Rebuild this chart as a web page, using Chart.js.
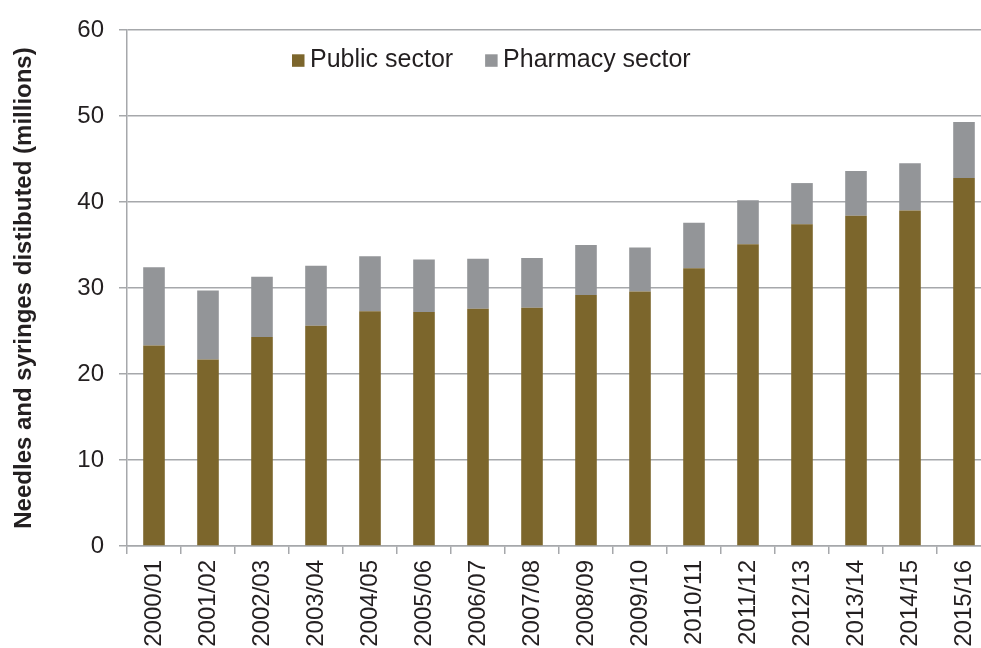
<!DOCTYPE html>
<html>
<head>
<meta charset="utf-8">
<script src="https://cdn.jsdelivr.net/npm/chart.js@4/dist/chart.umd.min.js"></script>
<style>
  html, body { margin: 0; padding: 0; background: #fff; overflow: hidden; }
  #wrap { position: absolute; left: 0; top: 0; width: 1000px; height: 648px; }
</style>
</head>
<body>
<div id="wrap"><canvas id="needlesChart" width="1000" height="648"></canvas></div>
<script>
const years = [
  "2000/01", "2001/02", "2002/03", "2003/04", "2004/05", "2005/06", "2006/07", "2007/08",
  "2008/09", "2009/10", "2010/11", "2011/12", "2012/13", "2013/14", "2014/15", "2015/16",
];
const publicSector = [23.3, 21.7, 24.3, 25.6, 27.3, 27.2, 27.6, 27.7, 29.2, 29.6, 32.3, 35.1, 37.4, 38.4, 39.0, 42.8];
const pharmacySector = [9.1, 8.0, 7.0, 7.0, 6.4, 6.1, 5.8, 5.8, 5.8, 5.1, 5.3, 5.1, 4.8, 5.2, 5.5, 6.5];
const yTicks = [0, 10, 20, 30, 40, 50, 60];

const PUBLIC_COLOR = "#7c662c";
const PHARMACY_COLOR = "#939598";
const TEXT_COLOR = "#231f20";
const GRID_COLOR = "#a6a8ab";
const FONT_FAMILY = "'Liberation Sans', Arial, sans-serif";

// legend sits inside the plot, left of centre, so draw it by hand
const insideLegend = {
  id: "insideLegend",
  afterDraw(chart) {
    const ctx = chart.ctx;
    let x = 292;
    const y = 60.5;

    ctx.save();
    ctx.font = `25px ${FONT_FAMILY}`;
    ctx.textBaseline = "middle";
    ctx.textAlign = "left";
    chart.data.datasets.forEach((ds) => {
      ctx.fillStyle = ds.backgroundColor;
      ctx.fillRect(x, y - 6.2, 12.5, 12.5);
      ctx.fillStyle = TEXT_COLOR;
      ctx.fillText(ds.label, x + 18, y);
      x += 18 + ctx.measureText(ds.label).width + 32;
    });
    ctx.restore();
  },
};

new Chart(document.getElementById("needlesChart"), {
  type: "bar",
  data: {
    labels: years,
    datasets: [
      {
        label: "Public sector",
        data: publicSector,
        backgroundColor: PUBLIC_COLOR,
        barPercentage: 0.4,
        categoryPercentage: 1,
      },
      {
        label: "Pharmacy sector",
        data: pharmacySector,
        backgroundColor: PHARMACY_COLOR,
        barPercentage: 0.4,
        categoryPercentage: 1,
      },
    ],
  },
  options: {
    responsive: false,
    devicePixelRatio: 1,
    animation: false,
    layout: { padding: { top: 30, right: 9, left: 0, bottom: 0 } },
    plugins: {
      legend: { display: false },
      tooltip: { enabled: false },
    },
    scales: {
      x: {
        stacked: true,
        afterFit(scale) { scale.height = 102; },
        grid: {
          offset: true,
          drawOnChartArea: false,
          drawTicks: true,
          tickLength: 8,
          color: GRID_COLOR,
          lineWidth: 1.5,
        },
        border: { color: GRID_COLOR, width: 1.5 },
        ticks: {
          autoSkip: false,
          minRotation: 90,
          maxRotation: 90,
          padding: 6,
          color: TEXT_COLOR,
          font: { family: FONT_FAMILY, size: 24 },
        },
      },
      y: {
        stacked: true,
        min: 0,
        max: 60,
        afterFit(scale) { scale.width = 127; },
        afterBuildTicks(scale) { scale.ticks = yTicks.map((v) => ({ value: v })); },
        grid: {
          color: GRID_COLOR,
          lineWidth: 1.5,
          tickLength: 8,
        },
        border: { color: GRID_COLOR, width: 1.5 },
        ticks: {
          padding: 15,
          color: TEXT_COLOR,
          font: { family: FONT_FAMILY, size: 24 },
        },
        title: {
          display: true,
          text: "Needles and syringes distibuted (millions)",
          color: TEXT_COLOR,
          font: { family: FONT_FAMILY, size: 24, weight: "bold" },
          padding: { top: 10, bottom: 0 },
        },
      },
    },
  },
  plugins: [insideLegend],
});
</script>
</body>
</html>
